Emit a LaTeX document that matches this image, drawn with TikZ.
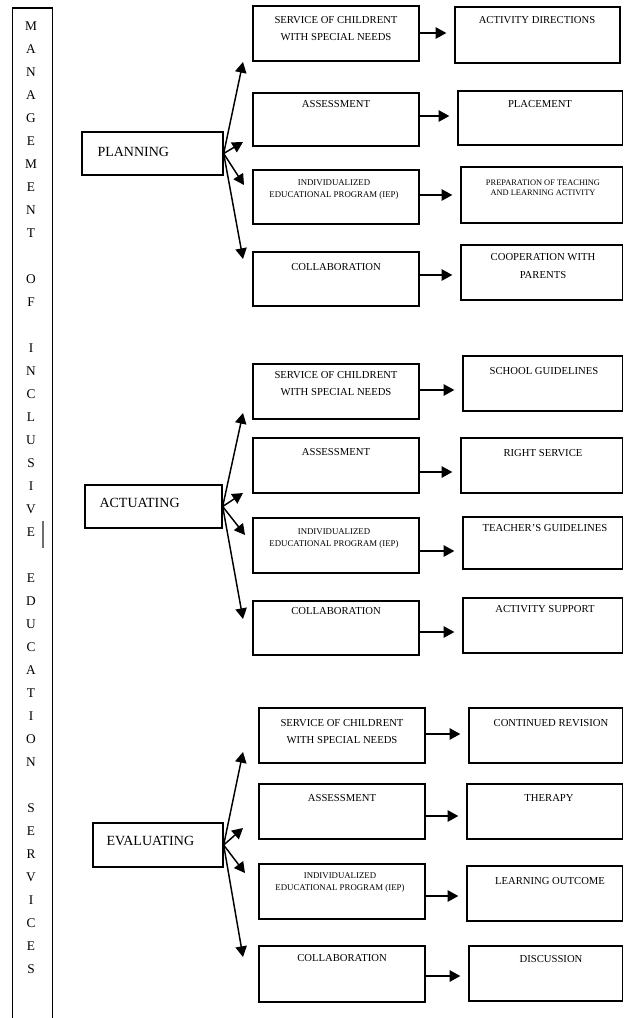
\documentclass[tikz,border=0pt]{standalone}
\usepackage{fontspec}
\setmainfont{Liberation Serif}
\usetikzlibrary{arrows.meta}

\tikzset{every picture/.style={line width=0.75pt}}
\tikzset{
  box/.style 2 args={draw, line width=1pt, inner sep=0pt, minimum width=#1*0.75pt, minimum height=#2*0.75pt},
  cattxt/.style={anchor=west, inner sep=0pt, font=\fontsize{10.5}{12}\selectfont},
  midtxt/.style={inner sep=0pt, align=center, font=\fontsize{8}{12.75}\selectfont},
  smalltxt/.style={inner sep=0pt, align=center, font=\fontsize{6.6}{9}\selectfont},
  lettertxt/.style={inner sep=0pt, font=\fontsize{10}{12}\selectfont},
  arr/.style={line width=1.1pt, -{Triangle[length=8pt,width=8.5pt]}},
  sarr/.style={arr, shorten >=6pt},
}

\begin{document}
\begin{tikzpicture}[x=0.75pt,y=0.75pt,yscale=-1,xscale=1]
\useasboundingbox (0,0) rectangle (624,1018);

%Shape: Open Rectangle (title column)
\draw [line width=1.1pt] (12.5,1018) -- (12.5,8) -- (52.5,8) -- (52.5,1018) ;
\foreach \ch [count=\i from 0] in {M,A,N,A,G,E,M,E,N,T,{},O,F,{},I,N,C,L,U,S,I,V,E,{},E,D,U,C,A,T,I,O,N,{},S,E,R,V,I,C,E,S}
  \node [lettertxt] (ltr\i) at (31,26+23*\i) {\ch};
%Straight Lines (cursor mark)
\draw [color={rgb, 255:red, 110; green, 110; blue, 110 }, line width=0.8pt] (43,521) -- (43,548) ;

%%%%%%%%%%%%%%%% PLANNING
%Shape: Rectangle
\node [box={141}{43}] (plan) at (152.5,153.5) {};
\node [box={166}{55}] (planSvc) at (336,33.5) {};
\node [box={166}{53}] (planAsm) at (336,119.5) {};
\node [box={166}{54}] (planIep) at (336,197) {};
\node [box={166}{54}] (planCol) at (336,279) {};
\node [box={165}{56}] (planDir) at (537.5,35) {};
\node [box={164.5}{54}] (planPlc) at (540.25,118) {};
\node [box={161.5}{56}] (planPrep) at (541.75,195) {};
\node [box={161.5}{55}] (planCoop) at (541.75,272.5) {};
% Text Node
\node [cattxt] (planT) at (97,152) {PLANNING};
\node [midtxt] (planSvcT) at (336,29) {SERVICE OF CHILDRENT\\WITH SPECIAL NEEDS};
\node [midtxt] (planAsmT) at (336,104) {ASSESSMENT};
\node [smalltxt] (planIepT) at (334,189.5) {INDIVIDUALIZED\\EDUCATIONAL PROGRAM (IEP)};
\node [midtxt] (planColT) at (336,267) {COLLABORATION};
\node [midtxt] (planDirT) at (537,20) {ACTIVITY DIRECTIONS};
\node [midtxt] (planPlcT) at (540,104) {PLACEMENT};
\node [smalltxt, font=\fontsize{6.3}{7.5}\selectfont] (planPrepT) at (543,188) {PREPARATION OF TEACHING\\AND LEARNING ACTIVITY};
\node [midtxt, font=\fontsize{8}{13.5}\selectfont] (planCoopT) at (543,266) {COOPERATION WITH\\PARENTS};
%Straight Lines
\coordinate (planE1) at (243,62);
\coordinate (planE2) at (243,142);
\coordinate (planE3) at (244,185);
\coordinate (planE4) at (243,259);
\foreach \e in {1,...,4} \draw [arr] (plan.east) -- (planE\e);
\draw [sarr] (planSvc.east |- 0,33) -- (planDir.west |- 0,33);
\draw [sarr] (planAsm.east |- 0,116) -- (planPlc.west |- 0,116);
\draw [sarr] (planIep.east |- 0,195) -- (planPrep.west |- 0,195);
\draw [sarr] (planCol.east |- 0,275) -- (planCoop.west |- 0,275);

%%%%%%%%%%%%%%%% ACTUATING
%Shape: Rectangle
\node [box={137}{43}] (act) at (153.5,506.5) {};
\node [box={166}{55}] (actSvc) at (336,391.5) {};
\node [box={166}{55}] (actAsm) at (336,465.5) {};
\node [box={166}{55}] (actIep) at (336,545.5) {};
\node [box={166}{54}] (actCol) at (336,628) {};
\node [box={159.5}{55}] (actSch) at (542.75,383.5) {};
\node [box={161.5}{55}] (actRig) at (541.75,465.5) {};
\node [box={159.5}{52}] (actTch) at (542.75,543) {};
\node [box={159.5}{55}] (actSup) at (542.75,625.5) {};
% Text Node
\node [cattxt] (actT) at (99,503) {ACTUATING};
\node [midtxt] (actSvcT) at (336,384) {SERVICE OF CHILDRENT\\WITH SPECIAL NEEDS};
\node [midtxt] (actAsmT) at (336,452) {ASSESSMENT};
\node [smalltxt] (actIepT) at (334,538.5) {INDIVIDUALIZED\\EDUCATIONAL PROGRAM (IEP)};
\node [midtxt] (actColT) at (336,611) {COLLABORATION};
\node [midtxt] (actSchT) at (544,371) {SCHOOL GUIDELINES};
\node [midtxt] (actRigT) at (543,453) {RIGHT SERVICE};
\node [midtxt] (actTchT) at (545,528) {TEACHER’S GUIDELINES};
\node [midtxt] (actSupT) at (545,609) {ACTIVITY SUPPORT};
%Straight Lines
\coordinate (actE1) at (243,413);
\coordinate (actE2) at (243,493);
\coordinate (actE3) at (245,535);
\coordinate (actE4) at (243,619);
\foreach \e in {1,...,4} \draw [arr] (act.east) -- (actE\e);
\draw [sarr] (actSvc.east |- 0,390) -- (actSch.west |- 0,390);
\draw [sarr] (actAsm.east |- 0,472) -- (actRig.west |- 0,472);
\draw [sarr] (actIep.east |- 0,551) -- (actTch.west |- 0,551);
\draw [sarr] (actCol.east |- 0,632) -- (actSup.west |- 0,632);

%%%%%%%%%%%%%%%% EVALUATING
%Shape: Rectangle
\node [box={130}{44}] (eval) at (158,845) {};
\node [box={166}{55}] (evalSvc) at (342,735.5) {};
\node [box={166}{55}] (evalAsm) at (342,811.5) {};
\node [box={166}{55}] (evalIep) at (342,891.5) {};
\node [box={166}{56}] (evalCol) at (342,974) {};
\node [box={153.5}{55}] (evalRev) at (545.75,735.5) {};
\node [box={155.5}{55}] (evalThe) at (544.75,811.5) {};
\node [box={155.5}{55}] (evalLea) at (544.75,893.5) {};
\node [box={153.5}{55}] (evalDis) at (545.75,973.5) {};
% Text Node
\node [cattxt] (evalT) at (106,841) {EVALUATING};
\node [midtxt] (evalSvcT) at (342,732) {SERVICE OF CHILDRENT\\WITH SPECIAL NEEDS};
\node [midtxt] (evalAsmT) at (342,798) {ASSESSMENT};
\node [smalltxt] (evalIepT) at (340,883) {INDIVIDUALIZED\\EDUCATIONAL PROGRAM (IEP)};
\node [midtxt] (evalColT) at (342,958) {COLLABORATION};
\node [midtxt] (evalRevT) at (551,723) {CONTINUED REVISION};
\node [midtxt] (evalTheT) at (549,798) {THERAPY};
\node [midtxt] (evalLeaT) at (550,881) {LEARNING OUTCOME};
\node [midtxt] (evalDisT) at (551,959) {DISCUSSION};
%Straight Lines
\coordinate (evalE1) at (243,752);
\coordinate (evalE2) at (243,828);
\coordinate (evalE3) at (245,873);
\coordinate (evalE4) at (243,957);
\foreach \e in {1,...,4} \draw [arr] (eval.east) -- (evalE\e);
\draw [sarr] (evalSvc.east |- 0,734) -- (evalRev.west |- 0,734);
\draw [sarr] (evalAsm.east |- 0,816) -- (evalThe.west |- 0,816);
\draw [sarr] (evalIep.east |- 0,896) -- (evalLea.west |- 0,896);
\draw [sarr] (evalCol.east |- 0,976) -- (evalDis.west |- 0,976);

\end{tikzpicture}
\end{document}
